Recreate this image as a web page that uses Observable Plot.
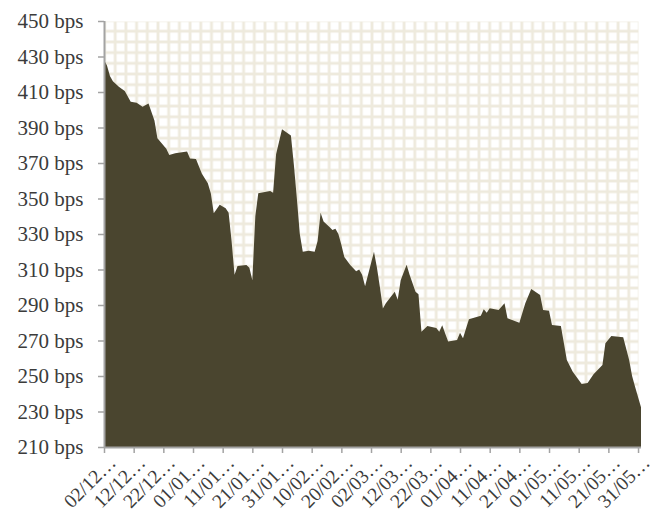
<!DOCTYPE html>
<html>
<head>
<meta charset="utf-8">
<script src="https://cdn.jsdelivr.net/npm/d3@7"></script>
<script src="https://cdn.jsdelivr.net/npm/@observablehq/plot@0.6"></script>
<style>
  html, body { margin: 0; padding: 0; background: #fff; }
  #chart svg { font-family: "Liberation Serif", "DejaVu Serif", serif; }
</style>
</head>
<body>
<div id="chart"></div>
<script>
// Spread values (bps) by date
const dates = [
  "2010-12-02","2010-12-03","2010-12-04","2010-12-05","2010-12-07","2010-12-09","2010-12-11","2010-12-13",
  "2010-12-15","2010-12-17","2010-12-19","2010-12-20","2010-12-23","2010-12-24","2010-12-26","2010-12-30",
  "2010-12-31","2011-01-02","2011-01-04","2011-01-06","2011-01-07","2011-01-08","2011-01-10","2011-01-12",
  "2011-01-13","2011-01-14","2011-01-15","2011-01-16","2011-01-19","2011-01-20","2011-01-21","2011-01-22",
  "2011-01-23","2011-01-27","2011-01-28","2011-01-29","2011-01-31","2011-02-03","2011-02-04","2011-02-05",
  "2011-02-06","2011-02-07","2011-02-09","2011-02-11","2011-02-12","2011-02-13","2011-02-14","2011-02-16",
  "2011-02-17","2011-02-18","2011-02-19","2011-02-20","2011-02-21","2011-02-23","2011-02-25","2011-02-26",
  "2011-02-27","2011-02-28","2011-03-03","2011-03-04","2011-03-05","2011-03-06","2011-03-07","2011-03-10",
  "2011-03-11","2011-03-12","2011-03-14","2011-03-15","2011-03-17","2011-03-18","2011-03-19","2011-03-21",
  "2011-03-24","2011-03-25","2011-03-26","2011-03-27","2011-03-28","2011-03-31","2011-04-01","2011-04-02",
  "2011-04-04","2011-04-06","2011-04-08","2011-04-09","2011-04-10","2011-04-11","2011-04-14","2011-04-16",
  "2011-04-17","2011-04-19","2011-04-21","2011-04-23","2011-04-25","2011-04-28","2011-04-29","2011-05-01",
  "2011-05-02","2011-05-05","2011-05-07","2011-05-09","2011-05-12","2011-05-14","2011-05-16","2011-05-19",
  "2011-05-20","2011-05-22","2011-05-26","2011-05-28","2011-05-29","2011-05-30","2011-06-01"
];
const spreads = [
  428, 425, 419, 416, 413, 410.5, 404.5, 404,
  401.7, 403.5, 394, 384, 378, 374.5, 375.5, 376.5,
  372.5, 372.2, 364, 358.6, 353, 341.7, 346.5, 344.5,
  342, 326, 307, 312, 312.5, 311, 304, 340,
  353, 354.2, 353.3, 375, 389, 385.5, 369, 350,
  330, 320, 320.5, 320, 326, 342, 337, 334,
  332.3, 333, 330, 324, 317, 312.5, 309, 310,
  307, 300.5, 320, 311, 300, 288, 291, 297.5,
  293, 304, 312.7, 307, 297.5, 296, 275, 278.2,
  277, 275, 278.6, 274, 269.5, 270.3, 274.4, 271.2,
  282, 283, 284, 287.6, 285.7, 288.1, 287.2, 291,
  282.5, 281.2, 280, 291, 299, 295.6, 287.2, 286.8,
  278.7, 278.2, 259, 252.4, 245.5, 246, 251, 256.2,
  268.4, 272.5, 271.8, 259, 250, 244, 232.4
];
const yTicks = [210, 230, 250, 270, 290, 310, 330, 350, 370, 390, 410, 430, 450];
const xTickLabels = [
  "2010-12-02","2010-12-12","2010-12-22","2011-01-01","2011-01-11","2011-01-21","2011-01-31",
  "2011-02-10","2011-02-20","2011-03-02","2011-03-12","2011-03-22","2011-04-01","2011-04-11",
  "2011-04-21","2011-05-01","2011-05-11","2011-05-21","2011-05-31"
];
const xDomain = ["2010-12-02", "2011-06-01"];
const yDomain = [210, 450];

const parse = d3.utcParse("%Y-%m-%d");
const data = dates.map((d, i) => ({date: parse(d), value: spreads[i]}));
const xTicks = xTickLabels.map(parse);
const fmt = d3.utcFormat("%d/%m");

const axisGray = "#a3a3a3";
const textColor = "#3b3b3b";

const plot = Plot.plot({
  width: 670,
  height: 512,
  marginLeft: 104,
  marginRight: 29,
  marginTop: 21,
  marginBottom: 65,
  x: {type: "utc", domain: xDomain.map(parse)},
  y: {domain: yDomain},
  marks: [
    Plot.frame({fill: "url(#bgGrid)", stroke: "none", insetRight: 3}),
    Plot.areaY(data, {x: "date", y1: yDomain[0], y2: "value", fill: "#4a452f", curve: "linear"}),
    Plot.ruleX([xDomain[0]].map(parse), {stroke: axisGray, strokeWidth: 2}),
    Plot.ruleY([yDomain[0]], {stroke: axisGray, strokeWidth: 2}),
    Plot.axisY({
      ticks: yTicks,
      tickFormat: d => d + " bps",
      tickSize: 6,
      tickPadding: 15,
      stroke: axisGray,
      strokeWidth: 1.5,
      fill: textColor,
      fontSize: 21,
      label: null
    }),
    Plot.axisX({
      ticks: xTicks,
      tickFormat: d => fmt(d) + "…",
      tickSize: 6,
      tickPadding: 6,
      tickRotate: -45,
      stroke: axisGray,
      strokeWidth: 1.5,
      fill: textColor,
      fontSize: 19.5,
      label: null
    })
  ]
});

const svg = d3.select(plot);
const pat = svg.insert("defs", ":first-child")
  .append("pattern")
  .attr("id", "bgGrid")
  .attr("patternUnits", "userSpaceOnUse")
  .attr("x", 104)
  .attr("y", 20)
  .attr("width", 10.7)
  .attr("height", 10.7);
pat.append("rect").attr("width", 10.7).attr("height", 10.7).attr("fill", "#eeeadd");
pat.append("rect").attr("x", 1.4).attr("y", 1.4).attr("width", 7.9).attr("height", 7.9).attr("fill", "#ffffff");

// shift the rotated x tick labels slightly right to match the reference placement
const xl = svg.select('g[aria-label="x-axis tick label"]');
if (!xl.empty()) {
  const t = xl.attr("transform") || "";
  xl.attr("transform", (t + " translate(8,0)").trim());
}

document.getElementById("chart").appendChild(plot);
</script>
</body>
</html>
